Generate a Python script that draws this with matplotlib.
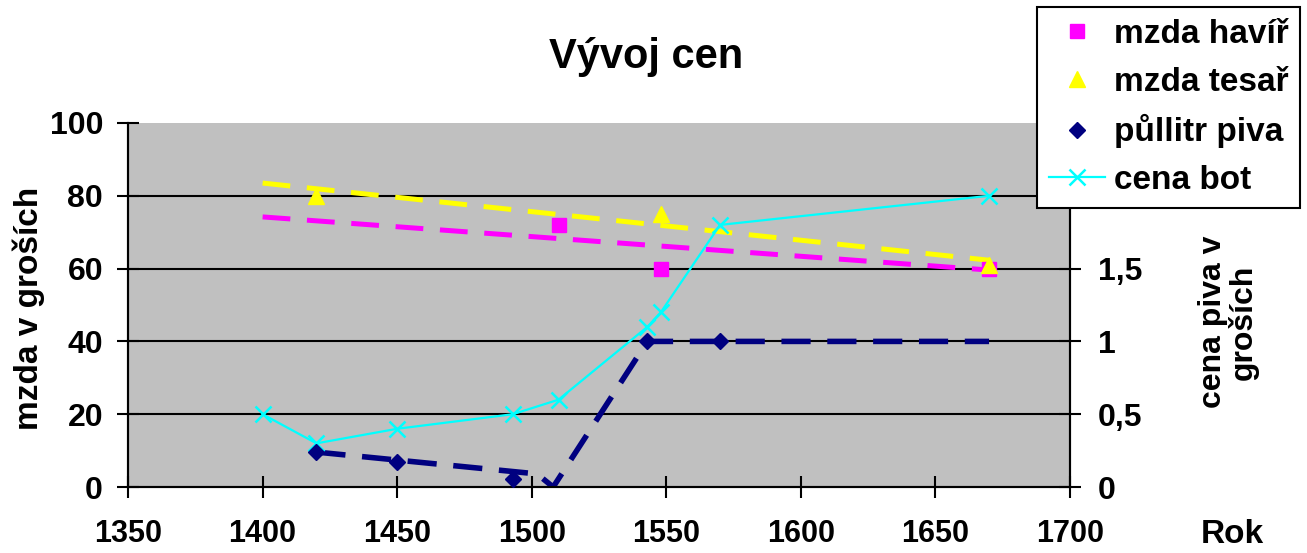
import matplotlib.pyplot as plt
import numpy as np
from matplotlib.lines import Line2D

plt.rcParams['font.family'] = ['Liberation Sans', 'DejaVu Sans']
plt.rcParams['font.weight'] = 'bold'
plt.rcParams['lines.scale_dashes'] = False

# mzda havir (levá osa)
havir_rok = [1510, 1548, 1670]
havir_mzda = [72, 60, 60]
havir_trend_rok = [1400, 1670]
havir_trend = [74.2, 59.6]

# mzda tesar (levá osa)
tesar_rok = [1420, 1548, 1670]
tesar_mzda = [80, 75, 61]
tesar_trend_rok = [1400, 1670]
tesar_trend = [83.5, 62.3]

# pullitr piva (pravá osa)
pivo_rok = [1420, 1450, 1493, 1543, 1570]
pivo_cena = [0.24, 0.17, 0.055, 1.0, 1.0]
pivo_trend_rok = [1420, 1502, 1508, 1543, 1670]
pivo_trend = [0.24, 0.09, 0.0, 1.0, 1.0]

# cena bot (pravá osa)
boty_rok = [1400, 1420, 1450, 1493, 1510, 1543, 1548, 1570, 1670]
boty_cena = [0.5, 0.3, 0.4, 0.5, 0.6, 1.1, 1.2, 1.8, 2.0]

fig = plt.figure(figsize=(13.07, 5.53), dpi=100)
ax = fig.add_axes([0.098, 0.1193, 0.7205, 0.6583])
ax2 = ax.twinx()

ax.set_facecolor('#C0C0C0')
ax.set_xlim(1350, 1700)
ax.set_ylim(0, 100)
ax2.set_ylim(0, 2.5)
ax.set_xticks(np.arange(1350, 1701, 50))
ax.set_yticks(np.arange(0, 101, 20))
# 2 a 2,5 jsou schovane pod legendou
ax2.set_yticks([0, 0.5, 1, 1.5])
ax2.set_yticklabels(['0', '0,5', '1', '1,5'])

for y in [20, 40, 60, 80]:
    ax.axhline(y, color='black', lw=1.5, zorder=1)

# trendy
ax.plot(tesar_trend_rok, tesar_trend, color='#FFFF00', lw=3.6, dashes=(20, 12), zorder=2)
ax.plot(havir_trend_rok, havir_trend, color='#FF00FF', lw=3.6, dashes=(20, 12), zorder=2)
ax2.plot(pivo_trend_rok, pivo_trend, color='#000080', lw=4, dashes=(21, 12), zorder=2)

ax2.plot(boty_rok, boty_cena, color='#00FFFF', lw=1.6, marker='x', ms=11, mew=1.8, zorder=3)
ax2.plot(pivo_rok, pivo_cena, color='#000080', ls='none', marker='D', ms=8, zorder=4)
ax.plot(havir_rok, havir_mzda, color='#FF00FF', ls='none', marker='s', ms=10, zorder=4)
ax.plot(tesar_rok, tesar_mzda, color='#FFFF00', ls='none', marker='^', ms=11, zorder=5)

for a in (ax, ax2):
    a.spines['top'].set_visible(False)
    for s in ['left', 'right', 'bottom']:
        a.spines[s].set_linewidth(1.5)
ax.tick_params(axis='y', direction='inout', length=16, width=1.5, labelsize=23, pad=10)
ax.tick_params(axis='x', direction='inout', length=16, width=1.5, labelsize=22, pad=15)
ax2.tick_params(axis='y', direction='inout', length=16, width=1.5, labelsize=23, pad=12)

fig.text(0.494, 0.897, 'Vývoj cen', ha='center', va='center', fontsize=30, fontweight='bold')
fig.text(0.022, 0.443, 'mzda v groších', ha='center', va='center', rotation=90,
         fontsize=24, fontweight='bold')
fig.text(0.940, 0.418, 'cena piva v\ngroších', ha='center', va='center', rotation=90,
         fontsize=23, fontweight='bold', linespacing=1.0)
fig.text(0.943, 0.034, 'Rok', ha='center', va='center', fontsize=24, fontweight='bold')

handles = [
    Line2D([], [], color='#FF00FF', ls='none', marker='s', ms=10),
    Line2D([], [], color='#FFFF00', ls='none', marker='^', ms=11),
    Line2D([], [], color='#000080', ls='none', marker='D', ms=8),
    Line2D([], [], color='#00FFFF', lw=1.6, marker='x', ms=11, mew=1.8),
]
labels = ['mzda havíř', 'mzda tesař', 'půllitr piva', 'cena bot']
leg = fig.legend(handles, labels, loc='upper left', bbox_to_anchor=(0.7934, 0.987),
                 frameon=True, fancybox=False, edgecolor='black', framealpha=1,
                 prop={'weight': 'bold', 'size': 24}, handlelength=1.7,
                 labelspacing=0.5, borderpad=0.35, handletextpad=0.25, borderaxespad=0)
leg.get_frame().set_linewidth(1.5)

fig.savefig('out.png', dpi=100)
